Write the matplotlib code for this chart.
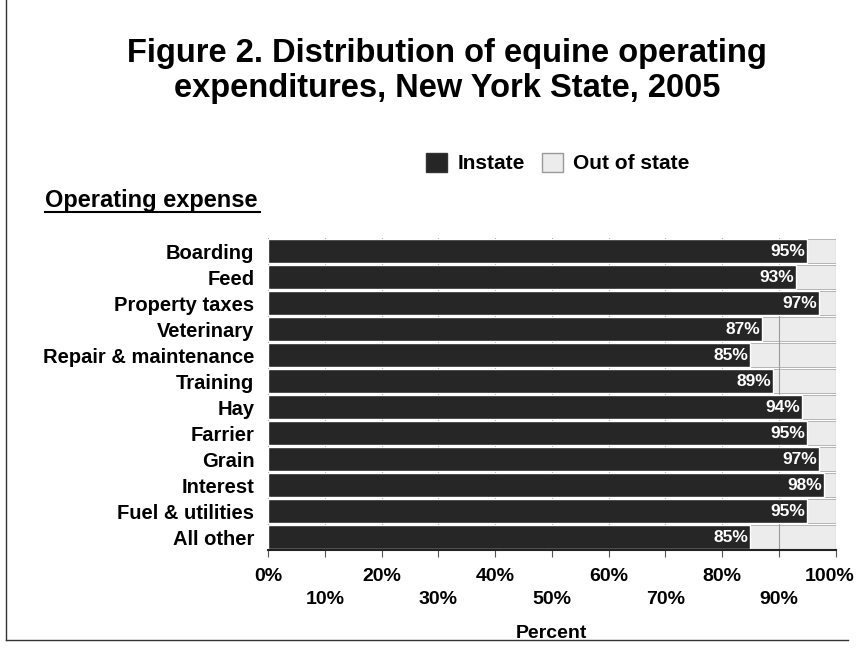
import matplotlib
matplotlib.use("Agg")
import matplotlib.pyplot as plt
from matplotlib.patches import Rectangle

plt.rcParams['font.family'] = ['Liberation Sans', 'DejaVu Sans']

categories = ["Boarding", "Feed", "Property taxes", "Veterinary", "Repair & maintenance",
              "Training", "Hay", "Farrier", "Grain", "Interest", "Fuel & utilities", "All other"]
instate = [95, 93, 97, 87, 85, 89, 94, 95, 97, 98, 95, 85]
out_of_state = [100 - v for v in instate]
tick_values = [0, 10, 20, 30, 40, 50, 60, 70, 80, 90, 100]
tick_labels = [f"{v}%" for v in tick_values]

fig = plt.figure(figsize=(8.57, 6.58), dpi=100)
ax = fig.add_axes([0.313, 0.164, 0.662, 0.474])

y = list(range(len(categories)))
dark = "#262626"
light = "#ececec"
ax.barh(y, instate, height=0.9, color=dark, edgecolor="white", linewidth=1.0, zorder=3)
ax.barh(y, out_of_state, left=instate, height=0.9, color=light, edgecolor="#aaaaaa",
        linewidth=0.6, zorder=1)
for yi, v in zip(y, instate):
    ax.text(v - 0.3, yi, f"{v}%", ha="right", va="center", color="white",
            fontsize=12.5, fontweight="bold", zorder=4)

ax.set_ylim(len(categories) - 0.5, -0.5)
ax.set_xlim(0, 100)
ax.set_yticks(y)
ax.set_yticklabels(categories, fontsize=14.5, fontweight="bold")
ax.tick_params(axis="y", length=0, pad=10)
ax.set_xticks(tick_values)
ax.set_xticklabels([])
ax.tick_params(axis="x", length=5, color="#555555")
for v, lab in zip(tick_values, tick_labels):
    off = 0.085 if (v // 10) % 2 == 0 else 0.16
    xpos = v if v < 100 else 99.0
    ax.text(xpos, -off, lab, transform=ax.get_xaxis_transform(), ha="center", va="center",
            fontsize=14, fontweight="bold")
ax.text(0.5, -0.268, "Percent", transform=ax.transAxes, ha="center", va="center",
        fontsize=14, fontweight="bold")
ax.grid(axis="x", color="#999999", linewidth=0.8, zorder=2)
ax.set_axisbelow(False)
for s in ["top", "right", "left"]:
    ax.spines[s].set_visible(False)
ax.spines["bottom"].set_color("#222222")
ax.spines["bottom"].set_linewidth(1.5)
ax.spines["bottom"].set_zorder(5)

fig.text(0.522, 0.892, "Figure 2. Distribution of equine operating\nexpenditures, New York State, 2005",
         ha="center", va="center", fontsize=23.5, fontweight="bold", linespacing=1.2)

# legend
leg_handles = [Rectangle((0, 0), 1, 1, facecolor=dark, edgecolor="#333333"),
               Rectangle((0, 0), 1, 1, facecolor=light, edgecolor="#999999")]
fig.legend(leg_handles, ["Instate", "Out of state"], loc="center", bbox_to_anchor=(0.651, 0.752),
           ncol=2, frameon=False, prop={"weight": "bold", "size": 15}, handlelength=1.0,
           handleheight=1.0, columnspacing=0.8, handletextpad=0.5)

fig.text(0.177, 0.696, "Operating expense", ha="center", va="center", fontsize=17,
         fontweight="bold")
fig.add_artist(plt.Line2D([0.052, 0.303], [0.678, 0.678], color="black", linewidth=1.5))

# outer frame (left and bottom edges visible)
fig.add_artist(plt.Line2D([0.007, 0.007], [0.027, 1.0], color="#333333", linewidth=1.0))
fig.add_artist(plt.Line2D([0.007, 0.99], [0.027, 0.027], color="#333333", linewidth=1.0))

fig.savefig("out.png", dpi=100)
